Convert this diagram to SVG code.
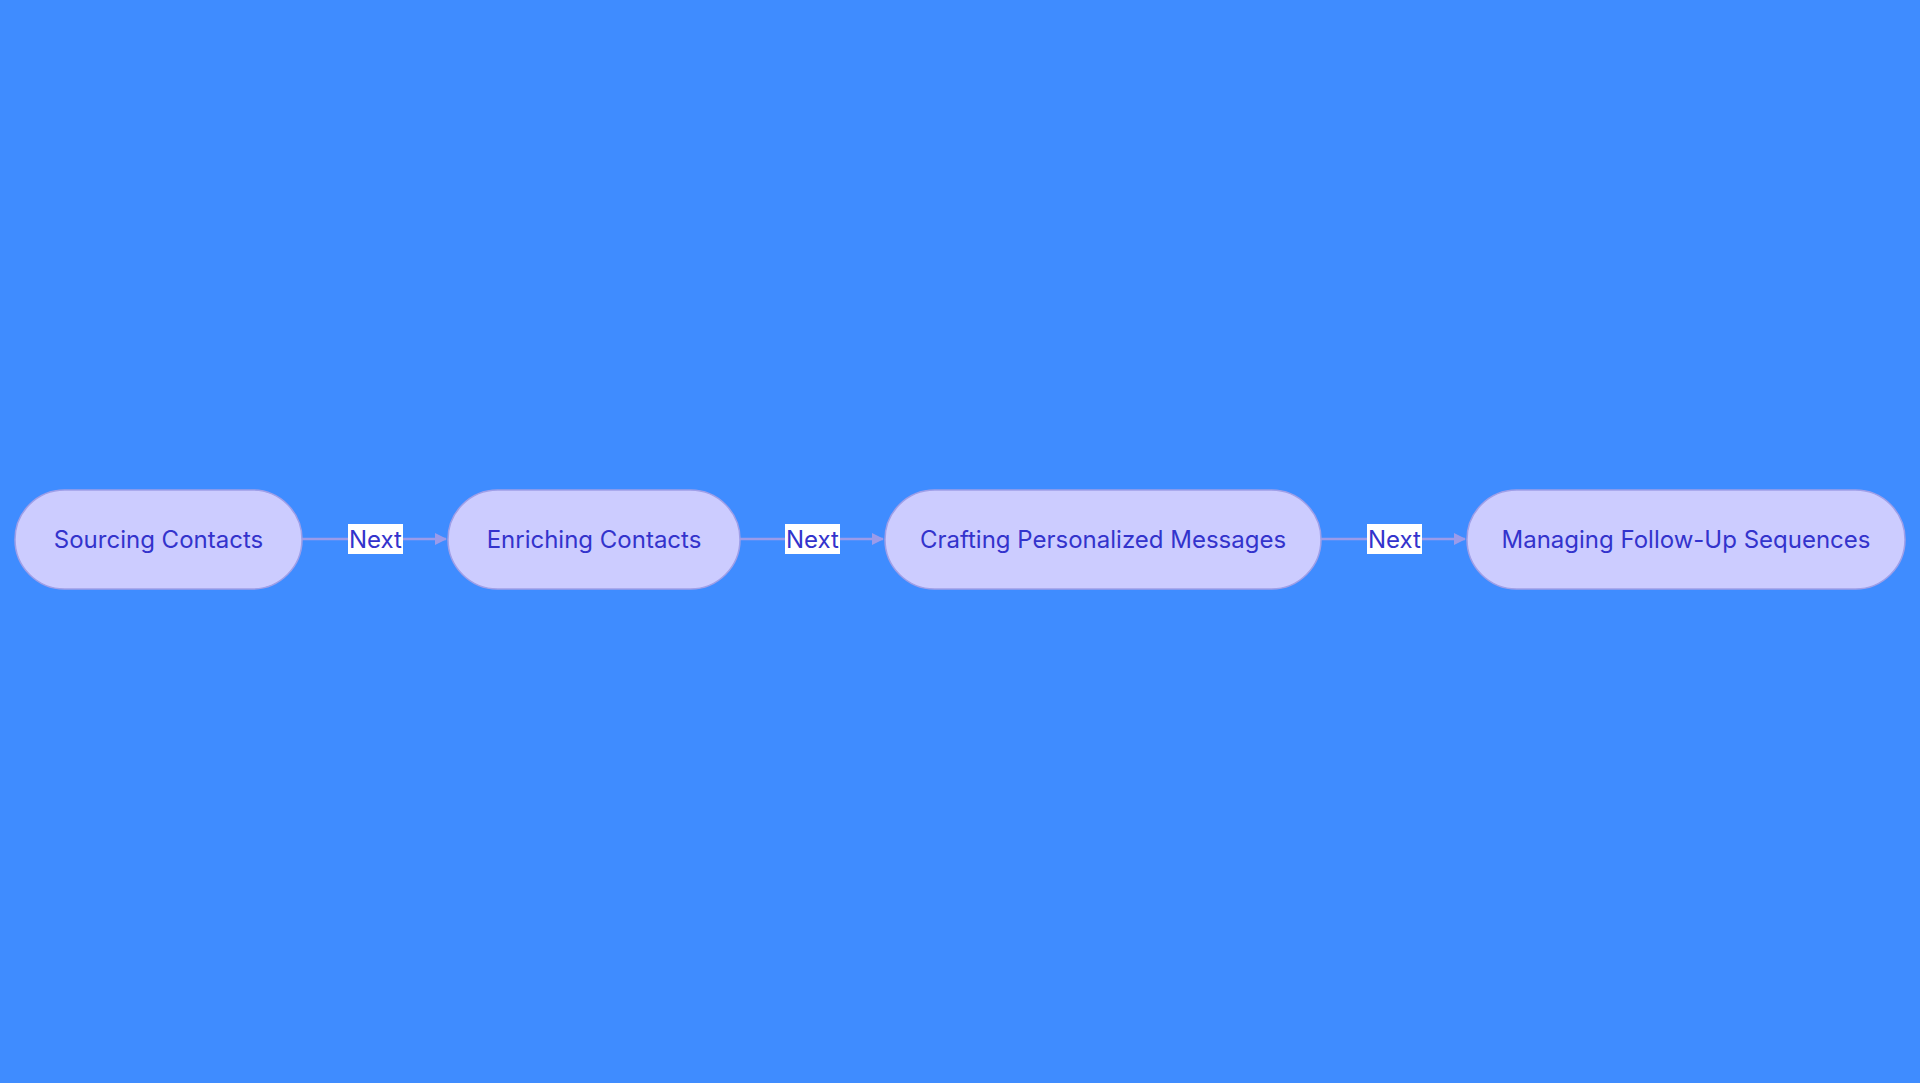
<svg xmlns="http://www.w3.org/2000/svg" width="1920" height="1083" viewBox="0 0 1920 1083">
<defs>
<style>
.n rect{fill:#ccccff;stroke:#9f9fe8;stroke-width:1.5}
.n text{font-family:Inter,"Liberation Sans",sans-serif;font-size:24px;fill:#3333cc;text-anchor:middle;dominant-baseline:central}
.e line{stroke:#9b9bea;stroke-width:2.5}
.l rect{fill:#ffffff}
.l text{font-family:Inter,"Liberation Sans",sans-serif;font-size:24px;fill:#3333cc;text-anchor:middle;dominant-baseline:central}
</style>
<marker id="a" markerWidth="12" markerHeight="12" refX="11" refY="6" orient="auto" markerUnits="userSpaceOnUse"><path d="M0,0 L12,6 L0,12 z" fill="#9b9bea"/></marker>
</defs>
<rect width="1920" height="1083" fill="#3f8cff"/>
<g id="connectors" class="e">
<line x1="302" y1="539" x2="446" y2="539" marker-end="url(#a)"/>
<line x1="740" y1="539" x2="883" y2="539" marker-end="url(#a)"/>
<line x1="1321" y1="539" x2="1465" y2="539" marker-end="url(#a)"/>
</g>
<g class="l">
<g id="label1"><rect x="348" y="524" width="55" height="30"/><text x="375.5" y="539">Next</text></g>
<g id="label2"><rect x="785" y="524" width="55" height="30"/><text x="812.5" y="539">Next</text></g>
<g id="label3"><rect x="1367" y="524" width="55" height="30"/><text x="1394.5" y="539">Next</text></g>
</g>
<g id="n1" class="n"><rect x="15" y="490" width="287" height="99" rx="49.5"/><text x="158.5" y="539">Sourcing Contacts</text></g>
<g id="n2" class="n"><rect x="448" y="490" width="292" height="99" rx="49.5"/><text x="594" y="539">Enriching Contacts</text></g>
<g id="n3" class="n"><rect x="885" y="490" width="436" height="99" rx="49.5"/><text x="1103" y="539">Crafting Personalized Messages</text></g>
<g id="n4" class="n"><rect x="1467" y="490" width="438" height="99" rx="49.5"/><text x="1686" y="539">Managing Follow-Up Sequences</text></g>
</svg>
